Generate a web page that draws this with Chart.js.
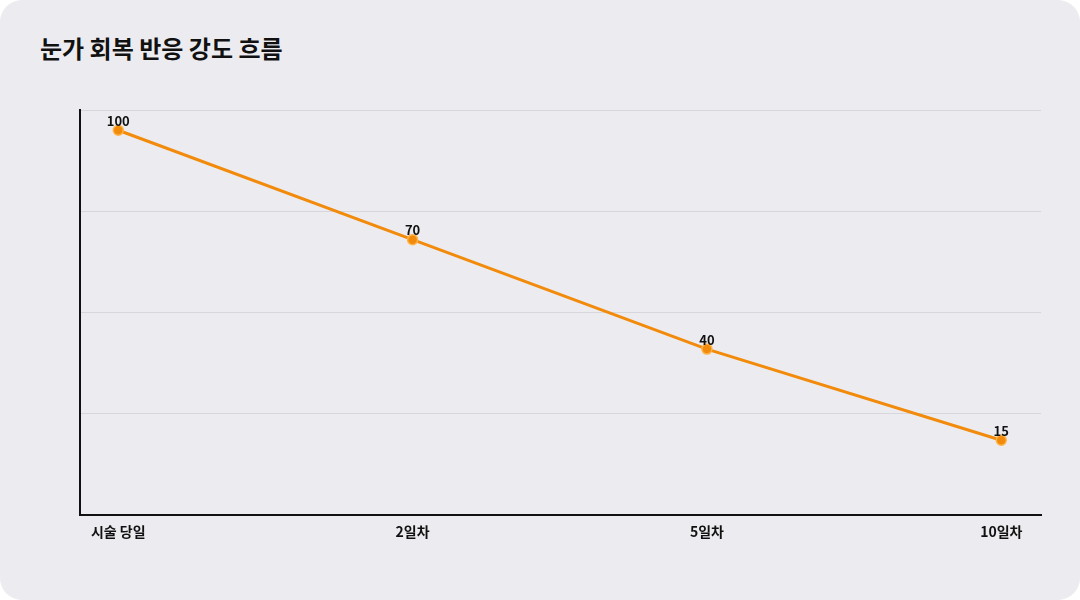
<!DOCTYPE html>
<html><head><meta charset="utf-8">
<script src="https://cdn.jsdelivr.net/npm/chart.js@4/dist/chart.umd.min.js"></script>
<style>
html,body{margin:0;padding:0;background:#fff;width:1080px;height:600px;overflow:hidden}
#card{position:absolute;left:0;top:0;width:1080px;height:600px;background:#ececf0;border-radius:22px}
#title{position:absolute;left:40px;top:30px;font:bold 24px "Noto Sans CJK KR",sans-serif;color:#111}
#wrap{position:absolute;left:0;top:0;width:1080px;height:600px}
</style></head><body>
<div id="card"></div>
<div id="title">눈가 회복 반응 강도 흐름</div>
<div id="wrap"><canvas id="c" width="1080" height="600"></canvas></div>
<script>
const categories = ["시술 당일","2일차","5일차","10일차"];
const values = [100,70,40,15];
const labelPlugin = {
  id:'lbl',
  afterDatasetsDraw(chart){
    const ctx=chart.ctx, meta=chart.getDatasetMeta(0);
    ctx.save();ctx.font='bold 13px "Noto Sans CJK KR", sans-serif';ctx.fillStyle='#111';
    ctx.textAlign='center';ctx.textBaseline='bottom';
    meta.data.forEach((p,i)=>ctx.fillText(String(values[i]),p.x,p.y-3));
    ctx.restore();
  }
};
new Chart(document.getElementById('c'),{
  type:'line',
  data:{datasets:[{data:values.map((v,i)=>({x:i,y:v})),borderColor:'#f28b0c',borderWidth:3,
    pointRadius:5,pointBackgroundColor:'#f28b0c',pointBorderColor:'#ffb347',pointBorderWidth:1.5,tension:0}]},
  options:{responsive:false,animation:false,devicePixelRatio:1,
    layout:{padding:{left:80,top:110,right:39,bottom:52}},
    plugins:{legend:{display:false},tooltip:{enabled:false}},
    scales:{
      x:{type:'linear',min:-0.13,max:3.135,
        afterBuildTicks(s){s.ticks=[0,1,2,3].map(v=>({value:v}));},
        ticks:{callback:v=>categories[v],font:{family:'"Noto Sans CJK KR", sans-serif',size:14,weight:'bold'},color:'#111',padding:8,maxRotation:0},
        grid:{display:false,drawTicks:false},border:{display:true,color:'#111',width:2}},
      y:{min:-5.556,max:105.556,
        afterBuildTicks(s){s.ticks=[0,1,2,3,4].map(i=>({value:-5.556+i*27.778}));},
        ticks:{display:false},
        grid:{color:'#d6d6dc',lineWidth:1,drawTicks:false},border:{display:true,color:'#111',width:2}}
    }},
  plugins:[labelPlugin]
});
</script>
</body></html>
